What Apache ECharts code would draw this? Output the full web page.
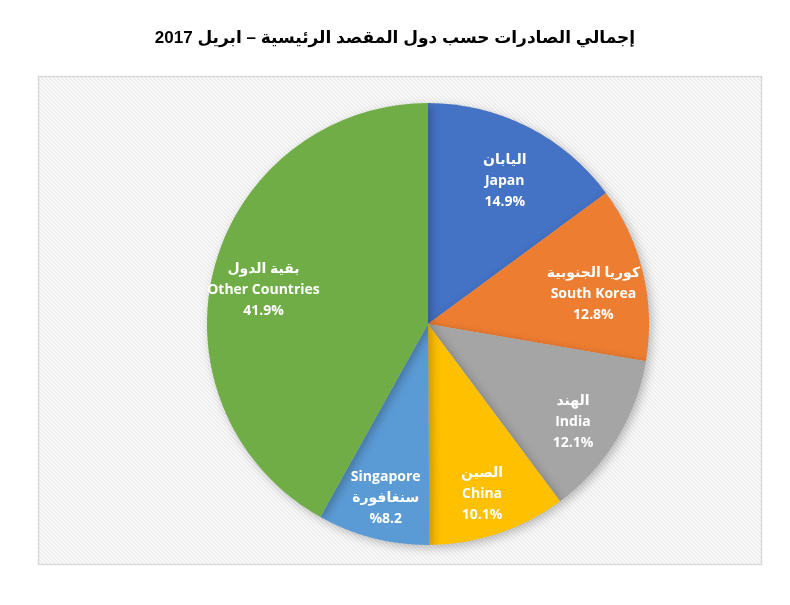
<!DOCTYPE html>
<html>
<head>
<meta charset="utf-8">
<script src="https://cdn.jsdelivr.net/npm/echarts@6/dist/echarts.min.js"></script>
<style>html,body{margin:0;padding:0;background:#fff}#c{width:790px;height:605px}</style>
</head>
<body>
<div id="c"></div>
<script>
const titleText = '\u202Bإجمالي الصادرات حسب دول المقصد الرئيسية – ابريل 2017\u202C';
const arabicNames = ['اليابان', 'كوريا الجنوبية', 'الهند', 'الصين', 'سنغافورة', 'بقية الدول'];
const englishNames = ['Japan', 'South Korea', 'India', 'China', 'Singapore', 'Other Countries'];
const values = [14.9, 12.8, 12.1, 10.1, 8.2, 41.9];
const percentLabels = ['14.9%', '12.8%', '12.1%', '10.1%', '%8.2', '41.9%'];
const colors = ['#4472C4', '#ED7D31', '#A5A5A5', '#FFC000', '#5B9BD5', '#70AD47'];

// background pattern
const pc = document.createElement('canvas');
pc.width = 4; pc.height = 4;
const pctx = pc.getContext('2d');
pctx.fillStyle = '#fbfbfb'; pctx.fillRect(0, 0, 4, 4);
pctx.fillStyle = '#ececec';
for (let i = 0; i < 4; i++) { pctx.fillRect(i, (i) % 4, 1, 1); pctx.fillRect(i, (i + 1) % 4, 1, 1); }

const data = values.map((v, i) => {
  const englishFirst = i === 4;
  const lines = englishFirst
    ? [englishNames[i], arabicNames[i], percentLabels[i]]
    : [arabicNames[i], englishNames[i], percentLabels[i]];
  return { name: englishNames[i], value: v, itemStyle: { color: colors[i] }, label: { formatter: lines.join('\n') } };
});

const cx = 428, cy = 324;
const labelDist = 170, labelDy = 9;
const chart = echarts.init(document.getElementById('c'));
chart.setOption({
  animation: false,
  title: {
    text: titleText, left: 'center', top: 25,
    textStyle: { fontFamily: 'Liberation Sans, Arial, DejaVu Sans', fontWeight: 'bold', fontSize: 17, color: '#000' }
  },
  graphic: [{
    type: 'rect', z: -10, silent: true,
    shape: { x: 38.5, y: 76.5, width: 723, height: 488 },
    style: { fill: { image: pc, repeat: 'repeat' }, stroke: '#d9d9d9', lineWidth: 1.5 }
  }],
  series: [{
    type: 'pie',
    center: [cx, cy],
    radius: [0, 221],
    startAngle: 90,
    clockwise: true,
    data: data,
    itemStyle: { borderWidth: 0, shadowBlur: 10, shadowOffsetX: 3, shadowOffsetY: 3, shadowColor: 'rgba(0,0,0,0.25)' },
    label: {
      show: true, position: 'inside', color: '#fff', fontWeight: 'bold', fontSize: 14, lineHeight: 21,
      fontFamily: 'Open Sans, DejaVu Sans, sans-serif', align: 'center'
    },
    labelLayout: function (p) {
      const r = p.labelRect;
      const dx = r.x + r.width / 2 - cx, dy = r.y + r.height / 2 - cy;
      const len = Math.sqrt(dx * dx + dy * dy) || 1;
      return { x: cx + dx / len * labelDist, y: cy + dy / len * labelDist + labelDy, align: 'center', verticalAlign: 'middle' };
    },
    emphasis: { disabled: true }
  }]
});
</script>
</body>
</html>
